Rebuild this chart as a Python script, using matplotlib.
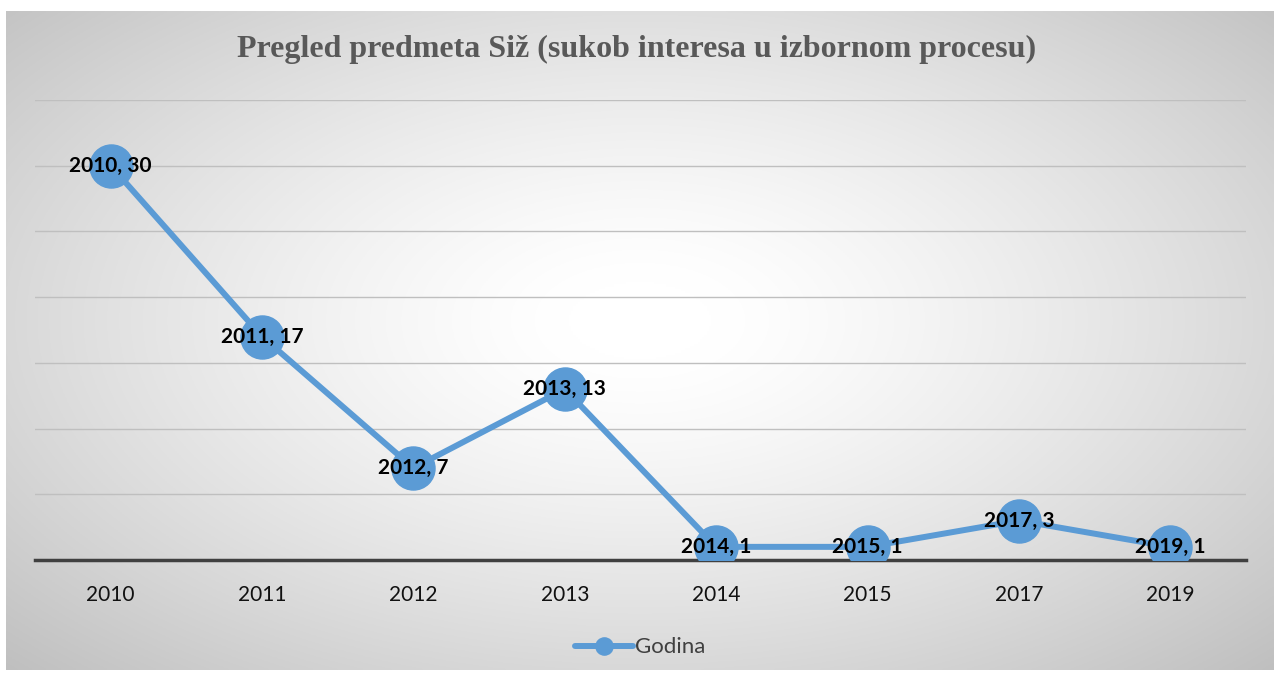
import numpy as np
import matplotlib
matplotlib.use('Agg')
import matplotlib.pyplot as plt

# podaci
godine = ['2010', '2011', '2012', '2013', '2014', '2015', '2017', '2019']
predmeti = [30, 17, 7, 13, 1, 1, 3, 1]

W, H = 1274, 675
fig = plt.figure(figsize=(W / 100, H / 100), dpi=100)
fig.patch.set_facecolor('white')

# pozadina sa radijalnim gradijentom
bx0, by0, bx1, by1 = 6, 11, 1274, 670
bg = fig.add_axes([bx0 / W, 1 - by1 / H, (bx1 - bx0) / W, (by1 - by0) / H])
yy, xx = np.mgrid[0:1:300j, 0:1:600j]
r = np.sqrt(((xx - 0.5) / 0.5) ** 2 + ((yy - 0.47) / 0.53) ** 2) / np.sqrt(2)
g = np.clip(1.0 - 0.25 * np.clip((r - 0.08) / 0.92, 0, 1) ** 1.3, 0, 1)
bg.imshow(np.dstack([g, g, g]), aspect='auto', extent=[0, 1, 0, 1])
bg.set_axis_off()

# glavni grafikon
ax = fig.add_axes([35 / W, 115 / H, 1211 / W, 460 / H])
ax.patch.set_alpha(0)
x = np.arange(len(godine))
ax.plot(x, predmeti, color='#5b9bd5', lw=4.3, marker='o', markersize=31,
        label='Godina', zorder=3, solid_capstyle='round')
ax.set_xlim(-0.5, len(godine) - 0.5)
ax.set_ylim(0, 35)
ax.set_yticks(np.arange(0, 36, 5))
ax.yaxis.grid(True, color='#bfbfbf', lw=1)
ax.set_axisbelow(True)
ax.tick_params(axis='y', left=False, labelleft=False)
ax.tick_params(axis='x', length=0, pad=18, labelsize=15, labelcolor='#111111')
ax.set_xticks(x)
ax.set_xticklabels(godine, fontfamily='Lato')
for s in ['top', 'right', 'left']:
    ax.spines[s].set_visible(False)
ax.spines['bottom'].set_color('#404040')
ax.spines['bottom'].set_linewidth(2.5)
ax.spines['bottom'].set_zorder(2)

for xi, god, v in zip(x, godine, predmeti):
    ax.text(xi, v, f'{god}, {v}', ha='center', va='center', fontsize=15,
            fontweight='bold', fontfamily='Lato', color='black', zorder=4)

leg = ax.legend(loc='center', bbox_to_anchor=(0.5, -0.19), frameon=False,
                prop={'family': 'Lato', 'size': 16}, markerscale=0.4,
                handlelength=2.6, handletextpad=0.1)
for t in leg.get_texts():
    t.set_color('#404040')

fig.text(0.5, 1 - 49 / H, 'Pregled predmeta Siž (sukob interesa u izbornom procesu)',
         ha='center', va='center', fontsize=23, fontweight='bold',
         fontfamily='Liberation Serif', color='#595959')

fig.savefig('out.png', dpi=100)
